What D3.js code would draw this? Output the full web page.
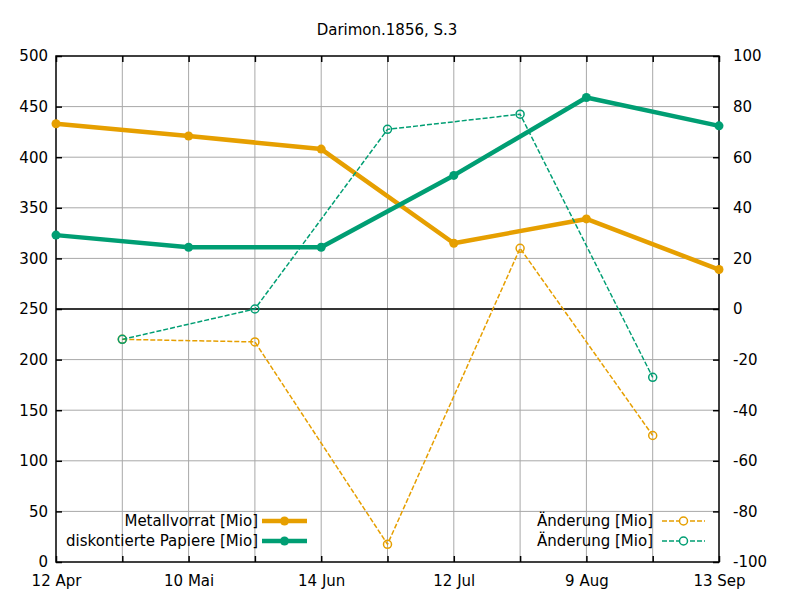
<!DOCTYPE html>
<html><head><meta charset="utf-8">
<script src="https://cdn.jsdelivr.net/npm/d3@7"></script>
<style>body{margin:0;background:#fff}text{font-family:"DejaVu Sans",sans-serif;}</style>
</head><body>
<svg id="c" width="799" height="599"></svg>
<script>
const title = "Darimon.1856, S.3";
const dateLabels = ["12 Apr","10 Mai","14 Jun","12 Jul","9 Aug","13 Sep"];
const metall = [433,421,408,315,339,289];
const papiere = [323,311,311,382,459,431];
const aenderungMetall = [-12,-13,-93,24,-50];
const aenderungPapiere = [-12,0,71,77,-27];
const leftTicks = [0,50,100,150,200,250,300,350,400,450,500];
const rightTicks = [-100,-80,-60,-40,-20,0,20,40,60,80,100];
const names = ["Metallvorrat [Mio]","diskontierte Papiere [Mio]","Änderung [Mio]","Änderung [Mio]"];
const colors = ["#E69F00","#009E73"];

const svg = d3.select("#c");
const L=56,R=719,T=56,B=562;
const x = d3.scaleLinear().domain([0,10]).range([L,R]);
const y = d3.scaleLinear().domain([0,500]).range([B,T]);
const y2 = d3.scaleLinear().domain([-100,100]).range([B,T]);
const fs = "15px";

// grid
const g = svg.append("g");
g.selectAll(".vg").data(d3.range(1,10)).enter().append("line")
  .attr("x1",d=>x(d)).attr("x2",d=>x(d)).attr("y1",T).attr("y2",B)
  .attr("stroke","#a8a8a8").attr("stroke-width",1);
g.selectAll(".hg").data(leftTicks.slice(1,-1)).enter().append("line")
  .attr("x1",L).attr("x2",R).attr("y1",d=>y(d)).attr("y2",d=>y(d))
  .attr("stroke","#a8a8a8").attr("stroke-width",1);
// zero line
svg.append("line").attr("x1",L).attr("x2",R).attr("y1",y2(0)).attr("y2",y2(0))
  .attr("stroke","#000").attr("stroke-width",1.5);

// axes
const xTickVals = d3.range(0,11);
const xb = d3.axisBottom(x).tickValues(xTickVals).tickSizeInner(-6).tickSizeOuter(0)
  .tickFormat(d=> d%2===0 ? dateLabels[d/2] : "").tickPadding(13);
const xt = d3.axisTop(x).tickValues(xTickVals).tickSizeInner(-6).tickSizeOuter(0).tickFormat("");
const yl = d3.axisLeft(y).tickValues(leftTicks).tickSizeInner(-6).tickSizeOuter(0).tickPadding(8)
  .tickFormat(d=>String(d));
const yr = d3.axisRight(y2).tickValues(rightTicks).tickSizeInner(-6).tickSizeOuter(0).tickPadding(14)
  .tickFormat(d=>String(d));
function style(sel){
  sel.select(".domain").remove();
  sel.selectAll("line").attr("stroke","#000").attr("stroke-width",1.5);
  sel.selectAll("text").attr("font-size",fs).attr("fill","#000").attr("font-family","DejaVu Sans");
}
svg.append("g").attr("transform",`translate(0,${B})`).call(xb).call(style);
svg.append("g").attr("transform",`translate(0,${T})`).call(xt).call(style);
svg.append("g").attr("transform",`translate(${L},0)`).call(yl).call(style);
svg.append("g").attr("transform",`translate(${R},0)`).call(yr).call(style);
svg.append("rect").attr("x",L).attr("y",T).attr("width",R-L).attr("height",B-T)
  .attr("fill","none").attr("stroke","#000").attr("stroke-width",1.5);

// title
svg.append("text").attr("x",387).attr("y",35).attr("text-anchor","middle")
  .attr("font-size",fs).text(title);

// series
const lineL = d3.line().x(d=>x(d.i)).y(d=>y(d.v));
const lineR = d3.line().x(d=>x(d.i)).y(d=>y2(d.v));
const levels = [metall,papiere].map(a=>a.map((v,k)=>({i:2*k,v})));
const changes = [aenderungMetall,aenderungPapiere].map(a=>a.map((v,k)=>({i:2*k+1,v})));

levels.forEach((s,j)=>{
  svg.append("path").datum(s).attr("d",lineL).attr("fill","none")
    .attr("stroke",colors[j]).attr("stroke-width",4.5).attr("stroke-linejoin","round");
  svg.selectAll(null).data(s).enter().append("circle")
    .attr("cx",d=>x(d.i)).attr("cy",d=>y(d.v)).attr("r",4.5).attr("fill",colors[j]);
});
changes.forEach((s,j)=>{
  svg.append("path").datum(s).attr("d",lineR).attr("fill","none")
    .attr("stroke",colors[j]).attr("stroke-width",1.5).attr("stroke-dasharray","5,2");
  svg.selectAll(null).data(s).enter().append("circle")
    .attr("cx",d=>x(d.i)).attr("cy",d=>y2(d.v)).attr("r",4).attr("fill","none")
    .attr("stroke",colors[j]).attr("stroke-width",1.5);
});

// legends
const legL = [{n:names[0],c:colors[0],yy:521},{n:names[1],c:colors[1],yy:541}];
legL.forEach(d=>{
  svg.append("text").attr("x",258).attr("y",d.yy+5).attr("text-anchor","end").attr("font-size",fs).text(d.n);
  svg.append("line").attr("x1",262).attr("x2",307).attr("y1",d.yy).attr("y2",d.yy)
    .attr("stroke",d.c).attr("stroke-width",4.5);
  svg.append("circle").attr("cx",284.5).attr("cy",d.yy).attr("r",4.5).attr("fill",d.c);
});
const legR = [{n:names[2],c:colors[0],yy:521},{n:names[3],c:colors[1],yy:541}];
legR.forEach(d=>{
  svg.append("text").attr("x",653).attr("y",d.yy+5).attr("text-anchor","end").attr("font-size",fs).text(d.n);
  svg.append("line").attr("x1",662).attr("x2",705).attr("y1",d.yy).attr("y2",d.yy)
    .attr("stroke",d.c).attr("stroke-width",1.5).attr("stroke-dasharray","5,2");
  svg.append("circle").attr("cx",683.5).attr("cy",d.yy).attr("r",4).attr("fill","#fff")
    .attr("stroke",d.c).attr("stroke-width",1.5);
});
</script>
</body></html>
